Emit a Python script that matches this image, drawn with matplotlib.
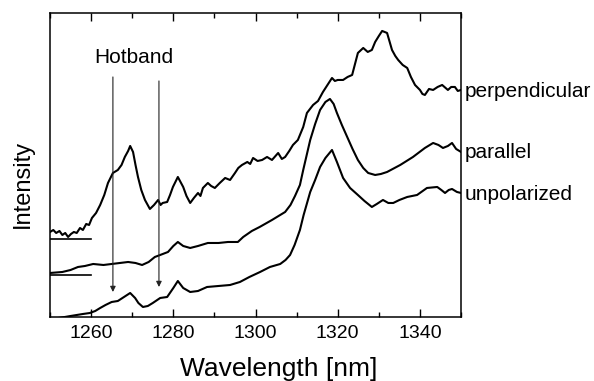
import numpy as np
import matplotlib
matplotlib.use('Agg')
import matplotlib.pyplot as plt
from matplotlib.ticker import MultipleLocator

plt.rcParams['font.family'] = ['Liberation Sans', 'DejaVu Sans']

# wavelength [nm] / intensity [arb. units]
wl_perp = [1250.0, 1250.8, 1251.5, 1252.3, 1253.0, 1253.7, 1254.4, 1255.1, 1255.8, 1256.5,
           1257.3, 1258.0, 1258.8, 1259.5, 1260.2, 1261.2, 1262.2, 1263.2, 1264.1, 1265.3,
           1266.5, 1267.4, 1268.2, 1269.0, 1269.5, 1270.2, 1270.8, 1271.4, 1272.2, 1273.1,
           1274.3, 1275.3, 1276.3, 1276.9, 1277.4, 1278.5, 1279.2, 1279.9, 1281.1, 1282.4,
           1283.2, 1284.1, 1285.0, 1286.0, 1286.6, 1287.2, 1288.4, 1289.2, 1290.1, 1291.3,
           1292.6, 1293.8, 1295.0, 1295.8, 1296.7, 1298.0, 1298.7, 1299.4, 1300.5, 1301.6,
           1302.8, 1304.0, 1305.5, 1306.4, 1307.2, 1308.2, 1309.1, 1310.3, 1311.6, 1312.5,
           1314.0, 1315.2, 1316.4, 1317.5, 1318.6, 1319.3, 1320.0, 1321.3, 1322.4, 1323.5,
           1324.9, 1326.2, 1327.3, 1328.3, 1329.1, 1330.0, 1330.8, 1332.0, 1333.2, 1334.0,
           1334.7, 1335.8, 1336.9, 1337.8, 1338.8, 1340.0, 1340.6, 1341.2, 1342.2, 1343.2,
           1344.3, 1345.4, 1346.8, 1347.6, 1348.5, 1349.2, 1350.0]
perp = [85, 87, 84, 86, 82, 84, 80, 83, 85, 84,
        89, 87, 93, 92, 99, 104, 112, 122, 134, 144,
        147, 152, 160, 166, 171, 165, 152, 140, 127, 117,
        108, 112, 117, 112, 114, 115, 122, 130, 140, 130,
        121, 114, 119, 124, 121, 129, 134, 131, 129, 134,
        139, 137, 144, 149, 152, 155, 153, 159, 156, 157,
        160, 157, 164, 158, 160, 166, 172, 177, 190, 204,
        212, 216, 225, 232, 239, 236, 237, 237, 240, 242,
        264, 269, 265, 267, 275, 281, 286, 284, 267, 261,
        257, 252, 249, 240, 232, 227, 223, 222, 228, 227,
        230, 232, 227, 230, 230, 226, 227]

wl_par = [1250.0, 1253.0, 1255.0, 1256.8, 1258.5, 1260.5, 1263.0, 1265.0, 1267.0, 1269.0,
          1270.8, 1272.4, 1274.0, 1275.5, 1276.8, 1278.7, 1280.0, 1281.1, 1282.4, 1284.1,
          1286.0, 1288.4, 1291.0, 1293.3, 1295.7, 1297.0, 1299.1, 1301.0, 1304.0, 1306.0,
          1307.2, 1308.5, 1309.6, 1310.8, 1311.6, 1313.3, 1314.5, 1315.7, 1317.0, 1318.1,
          1319.0, 1319.8, 1321.0, 1322.3, 1323.6, 1324.9, 1326.2, 1327.4, 1329.1, 1330.5,
          1332.0, 1335.2, 1338.3, 1341.2, 1343.2, 1344.5, 1345.6, 1346.8, 1347.8, 1348.8,
          1350.0]
par = [44, 45, 47, 50, 51, 53, 52, 53, 54, 55,
       54, 52, 55, 60, 62, 65, 71, 75, 71, 69,
       71, 74, 74, 75, 75, 80, 86, 90, 97, 102,
       105, 112, 121, 132, 147, 177, 193, 207, 215, 218,
       213, 204, 192, 180, 168, 157, 149, 144, 142, 143,
       145, 152, 160, 169, 174, 172, 169, 171, 174, 168,
       165]

wl_unpol = [1250.0, 1252.0, 1253.6, 1255.0, 1256.5, 1258.0, 1259.7, 1261.0, 1262.2, 1263.5,
            1265.0, 1266.5, 1268.0, 1269.5, 1270.7, 1271.5, 1272.6, 1273.8, 1275.0, 1276.8,
            1278.5, 1280.0, 1281.1, 1282.4, 1284.1, 1286.0, 1288.2, 1291.0, 1293.8, 1296.2,
            1298.5, 1301.1, 1303.5, 1306.0, 1307.3, 1308.4, 1309.5, 1310.8, 1311.7, 1313.3,
            1314.5, 1315.7, 1317.0, 1318.6, 1319.8, 1321.3, 1323.0, 1324.9, 1326.5, 1328.3,
            1329.5, 1331.0, 1332.3, 1333.5, 1335.0, 1336.9, 1339.3, 1341.7, 1344.2, 1345.2,
            1346.1, 1347.0, 1347.8, 1349.0, 1350.0]
unpol = [-2, -1, 0, 1, 2, 3, 4, 6, 9, 12,
         15, 16, 20, 24, 19, 14, 10, 11, 14, 19,
         20, 29, 36, 29, 25, 26, 30, 31, 32, 35,
         40, 45, 50, 53, 57, 62, 72, 87, 102, 125,
         137, 150, 159, 167, 155, 139, 129, 122, 116, 110,
         113, 117, 114, 114, 117, 120, 122, 129, 130, 127,
         124, 127, 128, 125, 124]

# zero lines of the shifted spectra
baselines = [78, 42]
hotband_wl = [1265.3, 1276.5]
labels = ['perpendicular', 'parallel', 'unpolarized']
label_y = [225, 164, 122]

fig = plt.figure(figsize=(5.94, 3.81), dpi=100)
ax = fig.add_axes([0.0842, 0.168, 0.692, 0.798])

for x, y in [(wl_perp, perp), (wl_par, par), (wl_unpol, unpol)]:
    ax.plot(x, y, color='black', lw=1.5, solid_joinstyle='round')

for b in baselines:
    ax.plot([1250, 1260], [b, b], color='black', lw=1.2)

# hotband arrows
ax.annotate('', xy=(hotband_wl[0], 25), xytext=(hotband_wl[0], 240),
            arrowprops=dict(arrowstyle='-|>', lw=0.8, color='#222222',
                            mutation_scale=8, shrinkA=0, shrinkB=0))
ax.annotate('', xy=(hotband_wl[1], 30), xytext=(hotband_wl[1], 236),
            arrowprops=dict(arrowstyle='-|>', lw=0.8, color='#222222',
                            mutation_scale=8, shrinkA=0, shrinkB=0))
ax.text(1270.4, 259, 'Hotband', ha='center', va='center', fontsize=15)

for lab, yy in zip(labels, label_y):
    ax.text(1350.8, yy, lab, ha='left', va='center', fontsize=15, clip_on=False)

ax.set_xlim(1250, 1350)
ax.set_ylim(0, 304)
ax.xaxis.set_minor_locator(MultipleLocator(10))
ax.set_xticks([1260, 1280, 1300, 1320, 1340])
ax.set_yticks([])
ax.tick_params(axis='x', which='both', direction='in', top=True, labelsize=14, pad=6)
ax.tick_params(axis='x', which='major', length=6, width=1)
ax.tick_params(axis='x', which='minor', length=3.5, width=1)
for s in ax.spines.values():
    s.set_linewidth(1.1)

ax.set_xlabel('Wavelength [nm]', fontsize=19)
ax.xaxis.set_label_coords(0.557, -0.13)
ax.set_ylabel('Intensity', fontsize=17)
ax.yaxis.set_label_coords(-0.04, 0.4375)

plt.savefig('out.png', dpi=100)
